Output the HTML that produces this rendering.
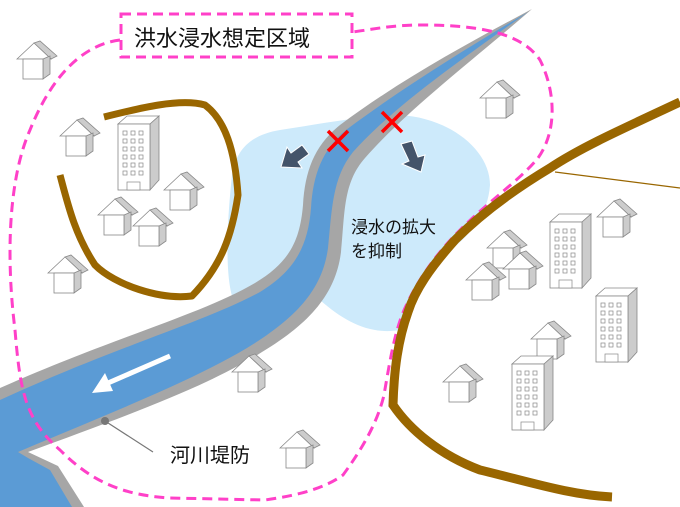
<!DOCTYPE html>
<html><head><meta charset="utf-8"><style>
html,body{margin:0;padding:0;background:#fff;}
svg{display:block;}
text{font-family:"Liberation Sans","Noto Sans CJK JP",sans-serif;fill:#111;}
</style></head><body>
<svg width="680" height="507" viewBox="0 0 680 507" xmlns="http://www.w3.org/2000/svg">
<defs>
<g id="h">
  <polygon points="17,0 23,-2 40,13 34,16" fill="#ccc" stroke="#888" stroke-width="0.8"/>
  <polygon points="0,16 17,0 34,16" fill="#fff" stroke="#888" stroke-width="0.8"/>
  <polygon points="26,16 33,13 33,31 26,36" fill="#ccc" stroke="#888" stroke-width="0.8"/>
  <rect x="6" y="16" width="20" height="20" fill="#fff" stroke="#888" stroke-width="0.8"/>
</g>
<g id="b">
  <polygon points="0,8 9,0 41,0 32,8" fill="#fff" stroke="#888" stroke-width="0.8"/>
  <polygon points="32,8 41,0 41,64 32,74" fill="#ccc" stroke="#888" stroke-width="0.8"/>
  <rect x="0" y="8" width="32" height="66" fill="#fff" stroke="#888" stroke-width="0.8"/>
  <g fill="#fff" stroke="#888" stroke-width="0.7">
    <rect x="5" y="15" width="4" height="4"/><rect x="13" y="15" width="4" height="4"/><rect x="21" y="15" width="4" height="4"/>
    <rect x="5" y="23" width="4" height="4"/><rect x="13" y="23" width="4" height="4"/><rect x="21" y="23" width="4" height="4"/>
    <rect x="5" y="31" width="4" height="4"/><rect x="13" y="31" width="4" height="4"/><rect x="21" y="31" width="4" height="4"/>
    <rect x="5" y="39" width="4" height="4"/><rect x="13" y="39" width="4" height="4"/><rect x="21" y="39" width="4" height="4"/>
    <rect x="5" y="47" width="4" height="4"/><rect x="13" y="47" width="4" height="4"/><rect x="21" y="47" width="4" height="4"/>
    <rect x="5" y="55" width="4" height="4"/><rect x="13" y="55" width="4" height="4"/><rect x="21" y="55" width="4" height="4"/>
    <rect x="9" y="66" width="13" height="8"/>
  </g>
</g>
</defs>

<!-- flood area -->
<path d="M232,175 C236,150 250,135 280,130 C320,124 360,116 400,115 C450,118 490,150 490,185 C488,215 470,235 445,255 C420,275 410,300 400,330 C370,335 345,322 320,300 C300,298 270,310 240,310 C225,300 225,240 232,175 Z" fill="#cdeafb"/>

<!-- river -->
<path d="M532,9 C470,42 400,80 340,125 C315,145 305,170 303,205 C300,240 290,262 255,283 C200,315 120,335 0,388 L0,507 L84,507 L58,466 L28,452 C120,418 205,388 262,352 C312,322 336,292 341,252 C345,212 343,183 365,158 C405,112 473,60 532,9 Z" fill="#a6a6a6"/>
<path d="M528,12 C470,46 402,88 346,130 C322,150 313,175 311,208 C308,245 296,270 260,292 C205,322 120,345 0,400 L0,507 L72,507 L50,470 L28,458 L18,452 C110,413 200,378 255,343 C302,313 323,285 328,248 C332,210 332,178 353,152 C395,105 465,57 528,12 Z" fill="#5b9bd5"/>
<path d="M22,450 C110,413 200,378 255,343" fill="none" stroke="#a6a6a6" stroke-width="0"/>

<!-- pink dashed boundary -->
<path d="M120,40 C80,45 50,80 30,130 C10,175 5,250 15,330 C20,390 25,420 60,450 C90,480 120,495 170,498 L265,500 C300,495 325,488 343,475 C365,445 378,420 384,395 C390,360 395,330 405,308 C420,275 440,250 460,230 C490,200 520,180 538,158 C558,130 555,90 540,60 C520,30 470,25 420,25 C390,25 370,30 352,32" fill="none" stroke="#ff40c8" stroke-width="3" stroke-dasharray="10,6"/>
<rect x="121" y="14" width="231" height="43" fill="#fff" stroke="#ff40c8" stroke-width="3" stroke-dasharray="10,6"/>
<text x="134" y="46" font-size="22">洪水浸水想定区域</text>

<!-- brown levees -->
<path d="M104,117 C140,108 180,98 205,105 C225,120 235,150 238,195 C232,235 222,265 192,296 C160,300 115,285 95,265 C75,235 68,205 60,175" fill="none" stroke="#996600" stroke-width="7" stroke-linejoin="round"/>
<path d="M680,102 C620,130 580,148 550,168 C510,192 480,215 455,240 C430,268 415,290 408,312 C398,340 394,370 393,405 C410,430 440,455 480,470 C530,482 570,495 612,497" fill="none" stroke="#996600" stroke-width="9"/>
<line x1="555" y1="172" x2="680" y2="188" stroke="#996600" stroke-width="1.2"/>

<!-- red X -->
<g stroke="#ff0000" stroke-width="3.5">
<line x1="328" y1="131" x2="348" y2="151"/><line x1="348" y1="131" x2="328" y2="151"/>
<line x1="382" y1="112" x2="402" y2="132"/><line x1="402" y1="112" x2="382" y2="132"/>
</g>
<!-- dark arrows -->
<polygon points="281,167 287,147 291,153 302,145 309,154 298,162 302,168" fill="#44546a" stroke="#fff" stroke-width="1"/>
<polygon points="421,172 402,164 409,161 401,144 412,141 418,157 425,155" fill="#44546a" stroke="#fff" stroke-width="1"/>
<!-- white river arrow -->
<line x1="170" y1="356" x2="108" y2="383" stroke="#fff" stroke-width="5"/>
<polygon points="92,393 105,373 113,391" fill="#fff"/>

<!-- leader -->
<line x1="105" y1="421" x2="153" y2="452" stroke="#777" stroke-width="1.2"/>
<circle cx="105" cy="421" r="4" fill="#777"/>

<text x="170" y="462" font-size="20">河川堤防</text>
<text x="351" y="233" font-size="17">浸水の拡大</text>
<text x="351" y="257" font-size="17">を抑制</text>

<!-- houses -->
<use href="#h" x="17" y="43"/>
<use href="#h" x="60" y="120"/>
<use href="#h" x="480" y="82"/>
<use href="#h" x="164" y="174"/>
<use href="#h" x="98" y="199"/>
<use href="#h" x="133" y="210"/>
<use href="#h" x="48" y="257"/>
<use href="#h" x="232" y="356"/>
<use href="#h" x="280" y="432"/>
<use href="#h" x="487" y="232"/>
<use href="#h" x="466" y="264"/>
<use href="#h" x="503" y="253"/>
<use href="#h" x="531" y="323"/>
<use href="#h" x="443" y="366"/>
<use href="#h" x="597" y="201"/>
<!-- buildings -->
<use href="#b" x="118" y="116"/>
<use href="#b" x="550" y="214"/>
<use href="#b" x="596" y="288"/>
<use href="#b" x="512" y="356"/>
</svg>
</body></html>
